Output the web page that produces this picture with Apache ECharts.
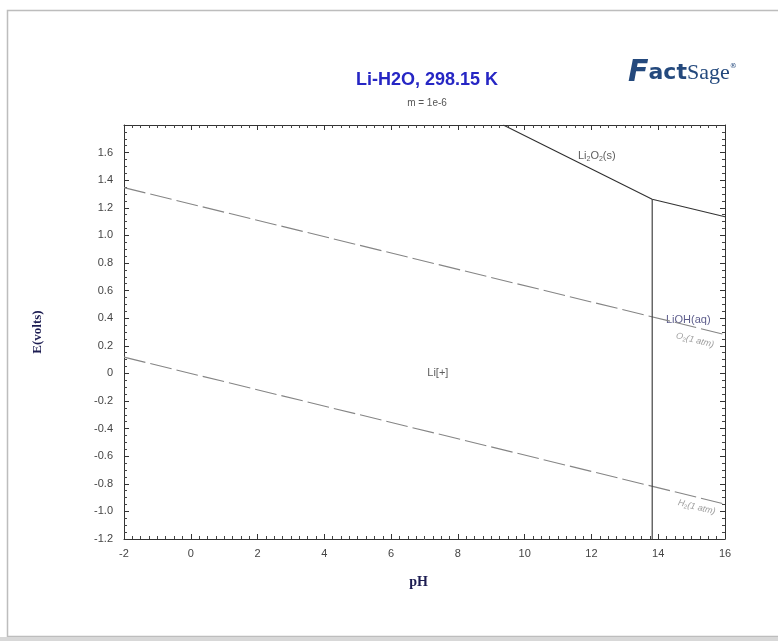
<!DOCTYPE html>
<html>
<head>
<meta charset="utf-8">
<script src="https://cdn.jsdelivr.net/npm/echarts@6/dist/echarts.min.js"></script>
<style>
  html, body { margin: 0; padding: 0; background: #fff; }
  #chart { width: 778px; height: 641px; }
</style>
</head>
<body>
<div id="chart"></div>
<script>
// Axis ranges and tick spacing
const phRange = [-2, 16];
const phStep = 2;
const eRange = [-1.2, 1.8];
const eStep = 0.2;

// Water stability limits (pH, E)
const o2Line = [[-2, 1.346], [16, 0.281]];
const h2Line = [[-2, 0.118], [16, -0.947]];

// Phase boundaries (pH, E)
const li2o2Boundary = [[9.36, 1.8], [13.82, 1.262], [16, 1.135]];
const liohBoundary = [[13.82, -1.2], [13.82, 1.262]];

// Field labels: [pH, E, text]
const fieldLabels = [
  [12.16, 1.575, '{t|Li}{s|2}{t|O}{s|2}{t|(s)}'],
  [7.4, 0.005, '{t|Li[+]}'],
  [14.9, 0.385, '{b|LiOH(aq)}']
];
// Gas limit labels: [pH, E, text]
const gasLabels = [
  [15.1, 0.24, '{g|O}{gs|2}{g|(1 atm)}'],
  [15.15, -0.97, '{g|H}{gs|2}{g|(1 atm)}']
];

const chart = echarts.init(document.getElementById('chart'));

const fmtE = v => {
  const r = Math.round(v * 10) / 10;
  return r === 0 ? '0' : r.toFixed(1);
};

const baseX = {
  type: 'value', min: phRange[0], max: phRange[1], interval: phStep,
  axisLine: { show: true, onZero: false, lineStyle: { color: '#333', width: 1 } },
  axisTick: { show: true, inside: true, length: 5, lineStyle: { color: '#333' } },
  minorTick: { show: true, splitNumber: 8, length: 3, lineStyle: { color: '#444' } },
  splitLine: { show: false }
};
const baseY = {
  type: 'value', min: eRange[0], max: eRange[1], interval: eStep,
  axisLine: { show: true, onZero: false, lineStyle: { color: '#333', width: 1 } },
  axisTick: { show: true, inside: true, length: 5, lineStyle: { color: '#333' } },
  minorTick: { show: true, splitNumber: 4, length: 3, lineStyle: { color: '#444' } },
  splitLine: { show: false }
};

const textRich = {
  t: { fontFamily: 'Liberation Sans, Arial', fontSize: 11, color: '#333' },
  s: { fontFamily: 'Liberation Sans, Arial', fontSize: 7, color: '#333', verticalAlign: 'bottom', padding: [6, 0, 0, 0] },
  b: { fontFamily: 'Liberation Sans, Arial', fontSize: 11, color: '#33336e' },
  g: { fontFamily: 'Liberation Sans, Arial', fontSize: 9, color: '#888', fontStyle: 'italic' },
  gs: { fontFamily: 'Liberation Sans, Arial', fontSize: 6, color: '#888', padding: [5, 0, 0, 0] }
};

const option = {
  backgroundColor: '#fff',
  animation: false,
  title: [
    {
      text: 'Li-H2O, 298.15 K', left: 422, top: 66, textAlign: 'center',
      textStyle: { fontFamily: 'Liberation Sans, Arial', fontSize: 18, fontWeight: 'bold', color: '#2626c4' }
    },
    {
      text: 'm = 1e-6', left: 422, top: 93, textAlign: 'center',
      textStyle: { fontFamily: 'Liberation Sans, Arial', fontSize: 10, fontWeight: 'normal', color: '#555' }
    }
  ],
  grid: { left: 124, top: 125, right: 53, bottom: 102, containLabel: false },
  xAxis: [
    Object.assign({}, baseX, {
      position: 'bottom',
      name: 'pH', nameLocation: 'middle', nameGap: 36,
      nameTextStyle: { fontFamily: 'Liberation Serif, Times New Roman', fontWeight: 'bold', fontSize: 14, color: '#1d1d52', padding: [0, 12, 0, 0] },
      axisLabel: { margin: 9, fontFamily: 'Liberation Sans, Arial', fontSize: 11, color: '#444' }
    }),
    Object.assign({}, baseX, { position: 'top', axisLabel: { show: false } })
  ],
  yAxis: [
    Object.assign({}, baseY, {
      position: 'left',
      name: 'E(volts)', nameLocation: 'middle', nameGap: 80, nameRotate: 90,
      nameTextStyle: { fontFamily: 'Liberation Serif, Times New Roman', fontWeight: 'bold', fontSize: 13, color: '#1d1d52' },
      axisLabel: { margin: 11, showMaxLabel: false, fontFamily: 'Liberation Sans, Arial', fontSize: 11, color: '#444', formatter: fmtE }
    }),
    Object.assign({}, baseY, { position: 'right', axisLabel: { show: false } })
  ],
  series: [
    {
      type: 'line', data: o2Line, symbol: 'none', silent: true,
      lineStyle: { color: '#858585', width: 1.1, type: [22, 5] }
    },
    {
      type: 'line', data: h2Line, symbol: 'none', silent: true,
      lineStyle: { color: '#858585', width: 1.1, type: [22, 5] }
    },
    {
      type: 'line', data: li2o2Boundary, symbol: 'none', silent: true,
      lineStyle: { color: '#333', width: 1.2 }
    },
    {
      type: 'line', data: liohBoundary, symbol: 'none', silent: true,
      lineStyle: { color: '#444', width: 1.2 }
    },
    {
      type: 'scatter', symbolSize: 0, silent: true,
      data: fieldLabels.map(d => ({ value: [d[0], d[1]], label: { formatter: d[2] } })),
      label: { show: true, position: 'inside', rich: textRich }
    },
    {
      type: 'scatter', symbolSize: 0, silent: true,
      data: gasLabels.map(d => ({ value: [d[0], d[1]], label: { formatter: d[2] } })),
      label: { show: true, position: 'inside', rotate: -14, rich: textRich }
    }
  ],
  graphic: [
    {
      type: 'rect', silent: true, z: -1,
      shape: { x: 7.5, y: 10.5, width: 800, height: 626 },
      style: { fill: 'none', stroke: '#bdbdbd', lineWidth: 1.5 }
    },
    {
      type: 'rect', silent: true,
      shape: { x: 0, y: 637, width: 778, height: 4 },
      style: { fill: '#d8d8d8' }
    },
    {
      type: 'text', silent: true, left: 628, top: 58,
      style: {
        text: '{f|F}{a|act}{s|Sage}{r|®}',
        rich: {
          f: { fontFamily: 'DejaVu Sans', fontSize: 30, fontWeight: 'bold', fontStyle: 'italic', fill: '#24497d' },
          a: { fontFamily: 'DejaVu Sans', fontSize: 22, fontWeight: 'bold', fill: '#24497d' },
          s: { fontFamily: 'Liberation Serif', fontSize: 22, fill: '#24497d' },
          r: { fontFamily: 'DejaVu Sans', fontSize: 7, fill: '#24497d', padding: [0, 0, 14, 0] }
        }
      }
    }
  ]
};

chart.setOption(option);
</script>
</body>
</html>
